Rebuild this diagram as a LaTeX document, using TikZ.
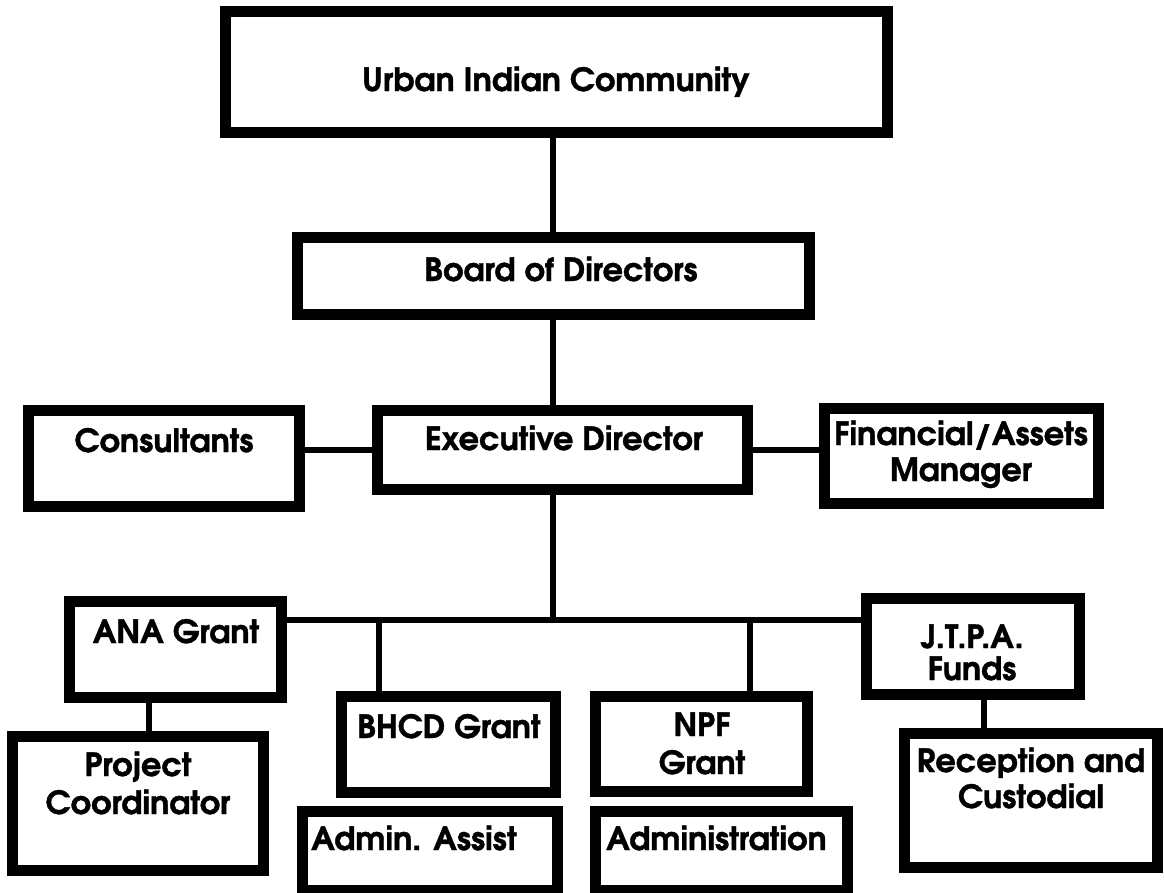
\documentclass[tikz,border=0pt]{standalone}
\usepackage{fontspec}
\setmainfont{TeX Gyre Adventor}[BoldFeatures={FakeBold=1.2}]
\begin{document}
\begin{tikzpicture}[x=1pt,y=-1pt,
  obox/.style={draw=black, line width=11pt, inner sep=0pt, fill=white},
  lbl/.style={inner sep=0pt, anchor=base, font=\fontsize{32}{38}\selectfont\bfseries},
  lbll/.style={lbl, anchor=base west},
  conn/.style={draw=black, line width=5.5pt}]
\useasboundingbox (0,0) rectangle (1164,892);
\fill[white] (0,0) rectangle (1164,892);
\newcommand{\obx}[5]{\node[obox, minimum width={#4-#2-11}, minimum height={#5-#3-11}] (#1) at ({(#2+#4)/2},{(#3+#5)/2}) {};}
% coordinates for connector positions
\coordinate (spine) at (553,0);
\coordinate (bus) at (0,620);
\coordinate (bx) at (379,620);
\coordinate (nx) at (750,620);
\coordinate (ax) at (149,0);
\coordinate (jx) at (984,0);
% boxes
\obx{top}{220}{6}{893}{138}
\obx{board}{292}{232}{815}{320}
\obx{cons}{23}{405}{305}{512}
\obx{exec}{372}{405}{753}{495}
\obx{fin}{819}{403}{1104}{509}
\obx{ana}{64}{596}{287}{703}
\obx{proj}{7}{731}{269}{876}
\obx{bhcd}{336}{691}{561}{798}
\obx{assist}{297}{806}{563}{896}
\obx{npf}{590}{691}{813}{797}
\obx{admin}{590}{806}{853}{896}
\obx{jtpa}{861}{593}{1085}{700}
\obx{recep}{899}{728}{1163}{873}
% connectors
\draw[conn] (top.south -| spine) -- (board.north -| spine);
\draw[conn] (board.south -| spine) -- (exec.north -| spine);
\draw[conn] (exec.south -| spine) -- (spine |- bus);
\draw[conn] (ana.east |- bus) -- (jtpa.west |- bus);
\draw[conn] (cons.east |- exec.center) -- (exec.west);
\draw[conn] (exec.east) -- (fin.west |- exec.center);
\draw[conn] (bx) -- (bx |- bhcd.north);
\draw[conn] (nx) -- (nx |- npf.north);
\draw[conn] (ana.south -| ax) -- (proj.north -| ax);
\draw[conn] (jtpa.south -| jx) -- (recep.north -| jx);
% labels
\node[lbl] (top-t) at (556,91) {Urban Indian Community};
\node[lbl] (board-t) at (561,281) {Board of Directors};
\node[lbl] (cons-t) at (164,452) {Consultants};
\node[lbl] (exec-t) at (564,450) {Executive Director};
\node[lbl] (fin-t1) at (961,445) {Financial/Assets};
\node[lbl] (fin-t2) at (961,481) {Manager};
\node[lbl] (ana-t) at (176,643) {ANA Grant};
\node[lbl] (proj-t1) at (138,776) {Project};
\node[lbl] (proj-t2) at (138,814) {Coordinator};
\node[lbl] (bhcd-t) at (449,738) {BHCD Grant};
\node[lbll] (assist-t) at (311,850) {Admin. Assist};
\node[lbl] (npf-t1) at (702,736) {NPF};
\node[lbl] (npf-t2) at (702,774) {Grant};
\node[lbll] (admin-t) at (606,850) {Administration};
\node[lbl] (jtpa-t1) at (972,648) {J.T.P.A.};
\node[lbl] (jtpa-t2) at (972,680) {Funds};
\node[lbl] (recep-t1) at (1031,772) {Reception and};
\node[lbl] (recep-t2) at (1031,808) {Custodial};
\end{tikzpicture}
\end{document}
